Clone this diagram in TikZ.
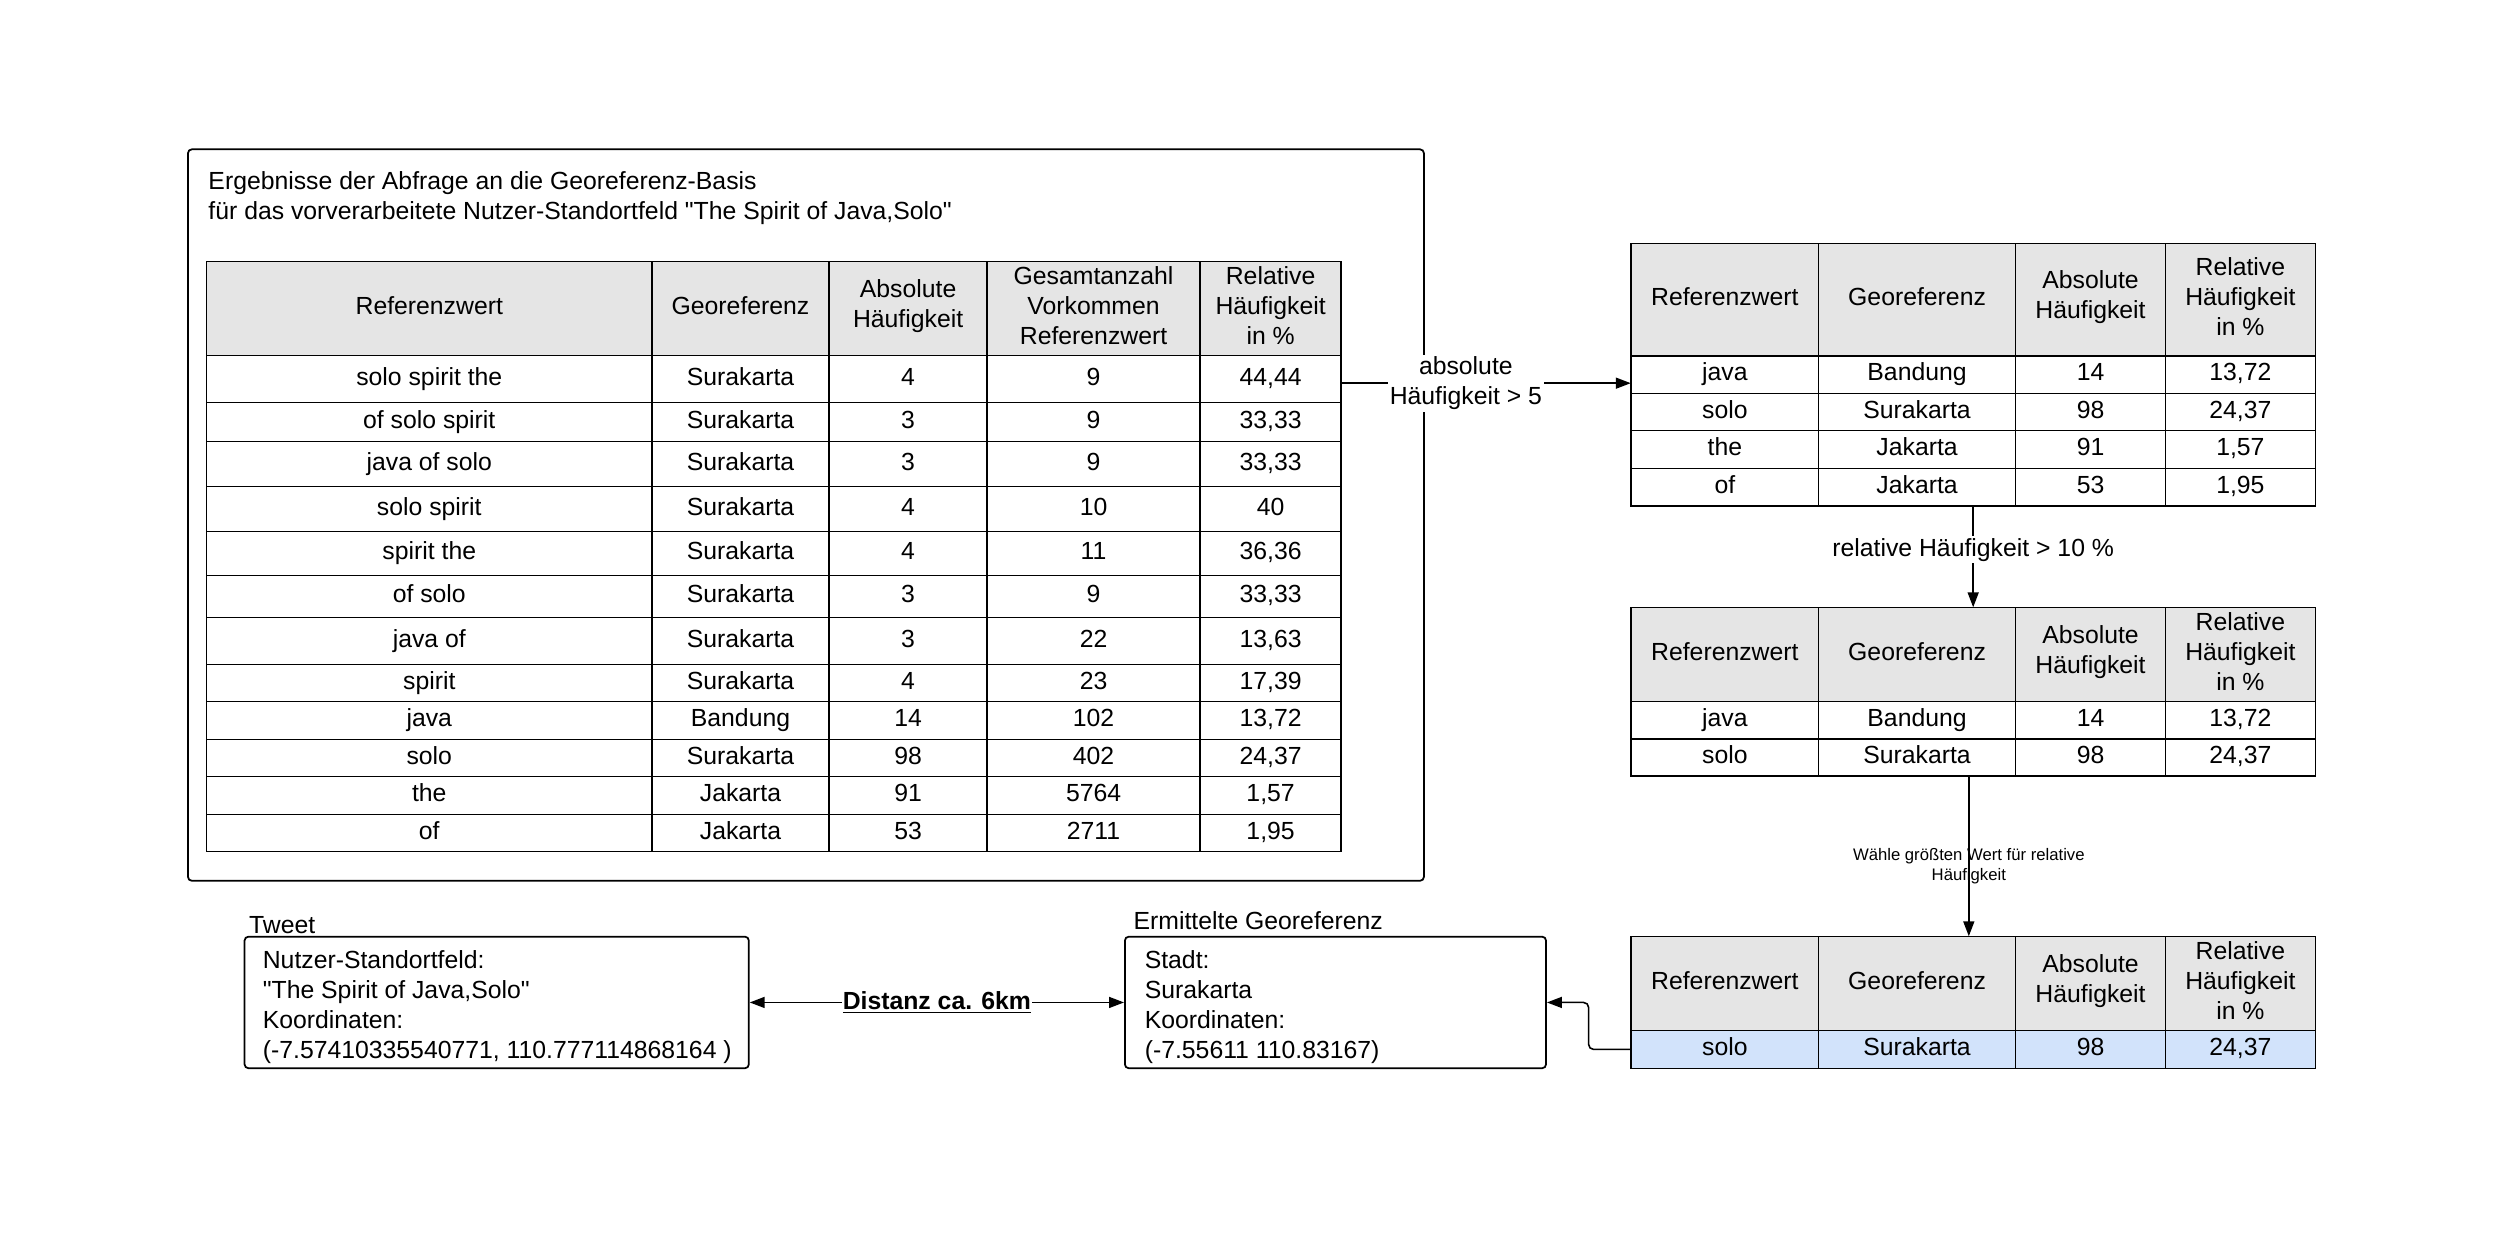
\documentclass[tikz,border=0pt]{standalone}
\usepackage{fontspec}
\setmainfont{Liberation Sans}[Ligatures=TeXOff]
\usetikzlibrary{arrows.meta,fit,calc}
\newcommand\mainfs{\fontsize{14.1}{17.1}\selectfont}
\newcommand\smallfs{\fontsize{9.5}{11.4}\selectfont}
\definecolor{hdrgray}{HTML}{E5E5E5}
\definecolor{selblue}{HTML}{D2E3FB}

% #1 box style, #2 text style, #3 name, #4 x1, #5 x2, #6 y1, #7 y2, #8 text
\newcommand\tcell[8]{%
  \path[#1] (#4,#6) rectangle (#5,#7);
  \node[#2] (#3) at ({(#4+#5)/2},{(#6+#7)/2}) {#8};}

% big table row: #1 kind, #2 name, #3 y1, #4 y2, #5-#9 texts
\newcommand\bigrow[9]{%
  \tcell{#1box}{#1text}{#2a}{130}{410}{#3}{#4}{#5}
  \tcell{#1box}{#1text}{#2b}{410}{521.5}{#3}{#4}{#6}
  \tcell{#1box}{#1text}{#2c}{521.5}{620.8}{#3}{#4}{#7}
  \tcell{#1box}{#1text}{#2d}{620.8}{754.8}{#3}{#4}{#8}
  \tcell{#1box}{#1text}{#2e}{754.8}{843.5}{#3}{#4}{#9}}

% small table row: #1 kind, #2 name, #3 y1, #4 y2, #5-#8 texts
\newcommand\smrow[8]{%
  \tcell{#1box}{#1text}{#2a}{1025.9}{1143.8}{#3}{#4}{#5}
  \tcell{#1box}{#1text}{#2b}{1143.8}{1267.7}{#3}{#4}{#6}
  \tcell{#1box}{#1text}{#2c}{1267.7}{1362}{#3}{#4}{#7}
  \tcell{#1box}{#1text}{#2d}{1362}{1456.2}{#3}{#4}{#8}}

\begin{document}
\begin{tikzpicture}[x=0.0318cm,y=-0.0318cm,
  hdrbox/.style={draw, fill=hdrgray, line width=0.8pt},
  bodybox/.style={draw, line width=0.8pt},
  selbox/.style={draw, fill=selblue, line width=0.8pt},
  hdrtext/.style={font=\mainfs, align=center, inner sep=0pt, yshift=1.7pt},
  bodytext/.style={font=\mainfs, inner sep=0pt, text height=10.1pt, text depth=3pt},
  seltext/.style={bodytext},
  plaintext/.style={font=\mainfs, inner sep=0pt, text height=10.1pt, text depth=3pt, anchor=west},
  blocktext/.style={font=\mainfs, inner sep=0pt, align=left, anchor=west},
  area/.style={inner sep=0pt},
  roundbox/.style={draw, line width=1pt, rounded corners=0.08cm, inner sep=0pt},
  conn/.style={line width=0.9pt, -{Triangle[length=0.3cm,width=0.22cm]}},
  conn2/.style={line width=0.9pt, {Triangle[length=0.3cm,width=0.22cm]}-{Triangle[length=0.3cm,width=0.22cm]}},
  lbl/.style={font=\mainfs, fill=white, inner sep=1pt, align=center},
  lblsmall/.style={font=\smallfs, inner sep=0pt, align=center}
]
\fill[white] (0,0) rectangle (1568,778);
\useasboundingbox (0,0) rectangle (1568,778);

% big frame
\node[roundbox, fit={(118.2,93.9) (895.6,554)}] (B) {};
\node[blocktext] (Ti) at (130.9,124.6) {Ergebnisse der Abfrage an die Georeferenz-Basis\\für das vorverarbeitete Nutzer-Standortfeld "The Spirit of Java,Solo"};

% big table
\bigrow{hdr}{t1h}{164.6}{223.7}{Referenzwert}{Georeferenz}{Absolute\\Häufigkeit}{Gesamtanzahl\\Vorkommen\\Referenzwert}{Relative\\Häufigkeit\\in \%}
\bigrow{body}{t1r1}{223.7}{253.0}{solo spirit the}{Surakarta}{4}{9}{44,44}
\bigrow{body}{t1r2}{253.0}{277.8}{of solo spirit}{Surakarta}{3}{9}{33,33}
\bigrow{body}{t1r3}{277.8}{306.1}{java of solo}{Surakarta}{3}{9}{33,33}
\bigrow{body}{t1r4}{306.1}{334.4}{solo spirit}{Surakarta}{4}{10}{40}
\bigrow{body}{t1r5}{334.4}{362.1}{spirit the}{Surakarta}{4}{11}{36,36}
\bigrow{body}{t1r6}{362.1}{388.3}{of solo}{Surakarta}{3}{9}{33,33}
\bigrow{body}{t1r7}{388.3}{417.8}{java of}{Surakarta}{3}{22}{13,63}
\bigrow{body}{t1r8}{417.8}{441.3}{spirit}{Surakarta}{4}{23}{17,39}
\bigrow{body}{t1r9}{441.3}{465.0}{java}{Bandung}{14}{102}{13,72}
\bigrow{body}{t1r10}{465.0}{488.5}{solo}{Surakarta}{98}{402}{24,37}
\bigrow{body}{t1r11}{488.5}{512.2}{the}{Jakarta}{91}{5764}{1,57}
\bigrow{body}{t1r12}{512.2}{535.6}{of}{Jakarta}{53}{2711}{1,95}
\node[area, fit={(130,164.6) (843.5,535.6)}] (T1) {};

% table 2
\smrow{hdr}{t2h}{153.0}{223.9}{Referenzwert}{Georeferenz}{Absolute\\Häufigkeit}{Relative\\Häufigkeit\\in \%}
\smrow{body}{t2r1}{223.9}{247.4}{java}{Bandung}{14}{13,72}
\smrow{body}{t2r2}{247.4}{270.9}{solo}{Surakarta}{98}{24,37}
\smrow{body}{t2r3}{270.9}{294.6}{the}{Jakarta}{91}{1,57}
\smrow{body}{t2r4}{294.6}{318.2}{of}{Jakarta}{53}{1,95}
\node[area, fit={(1025.9,153.0) (1456.2,318.2)}] (T2) {};

% table 3
\smrow{hdr}{t3h}{382.2}{441.3}{Referenzwert}{Georeferenz}{Absolute\\Häufigkeit}{Relative\\Häufigkeit\\in \%}
\smrow{body}{t3r1}{441.3}{464.8}{java}{Bandung}{14}{13,72}
\smrow{body}{t3r2}{464.8}{488.1}{solo}{Surakarta}{98}{24,37}
\node[area, fit={(1025.9,382.2) (1456.2,488.1)}] (T3) {};

% table 4
\smrow{hdr}{t4h}{589.1}{648.2}{Referenzwert}{Georeferenz}{Absolute\\Häufigkeit}{Relative\\Häufigkeit\\in \%}
\smrow{sel}{t4r1}{648.2}{671.9}{solo}{Surakarta}{98}{24,37}
\node[area, fit={(1025.9,589.1) (1456.2,671.9)}] (T4) {};

% tweet box
\node[plaintext] (WL) at (156.5,583.4) {Tweet};
\node[roundbox, fit={(153.8,589.1) (471,671.9)}] (W) {};
\node[blocktext] (Wt) at (165.1,633.5) {Nutzer-Standortfeld:\\"The Spirit of Java,Solo"\\Koordinaten:\\(-7.57410335540771, 110.777114868164 )};

% result box
\node[plaintext] (EL) at (712.8,580.6) {Ermittelte Georeferenz};
\node[roundbox, fit={(707.5,589.1) (972.4,671.9)}] (E) {};
\node[blocktext] (Et) at (719.8,633.5) {Stadt:\\Surakarta\\Koordinaten:\\(-7.55611 110.83167)};

% connectors
\coordinate (ya1) at (0,241);
\coordinate (xa3) at (1238.3,0);
\draw[conn] (T1.east |- ya1) -- node[lbl, pos=0.43] (L1) {absolute\\Häufigkeit > 5} (T2.west |- ya1);
\draw[conn] (T2.south) -- node[lbl, pos=0.43] (L2) {relative Häufigkeit > 10 \%} (T3.north);
\draw[conn] (T3.south -| xa3) -- node[lblsmall, pos=0.563] (L3) {Wähle größten Wert für relative\\Häufigkeit} (T4.north -| xa3);
\draw[conn, rounded corners=0.1cm] (T4.west |- t4r1a) -- ++(-26.5,0) |- (E.east);
\draw[conn2] (W.east) -- node[lbl, inner sep=0.5pt] (L5) {\textbf{\underline{Distanz ca. 6km}}} (E.west);
\end{tikzpicture}
\end{document}
